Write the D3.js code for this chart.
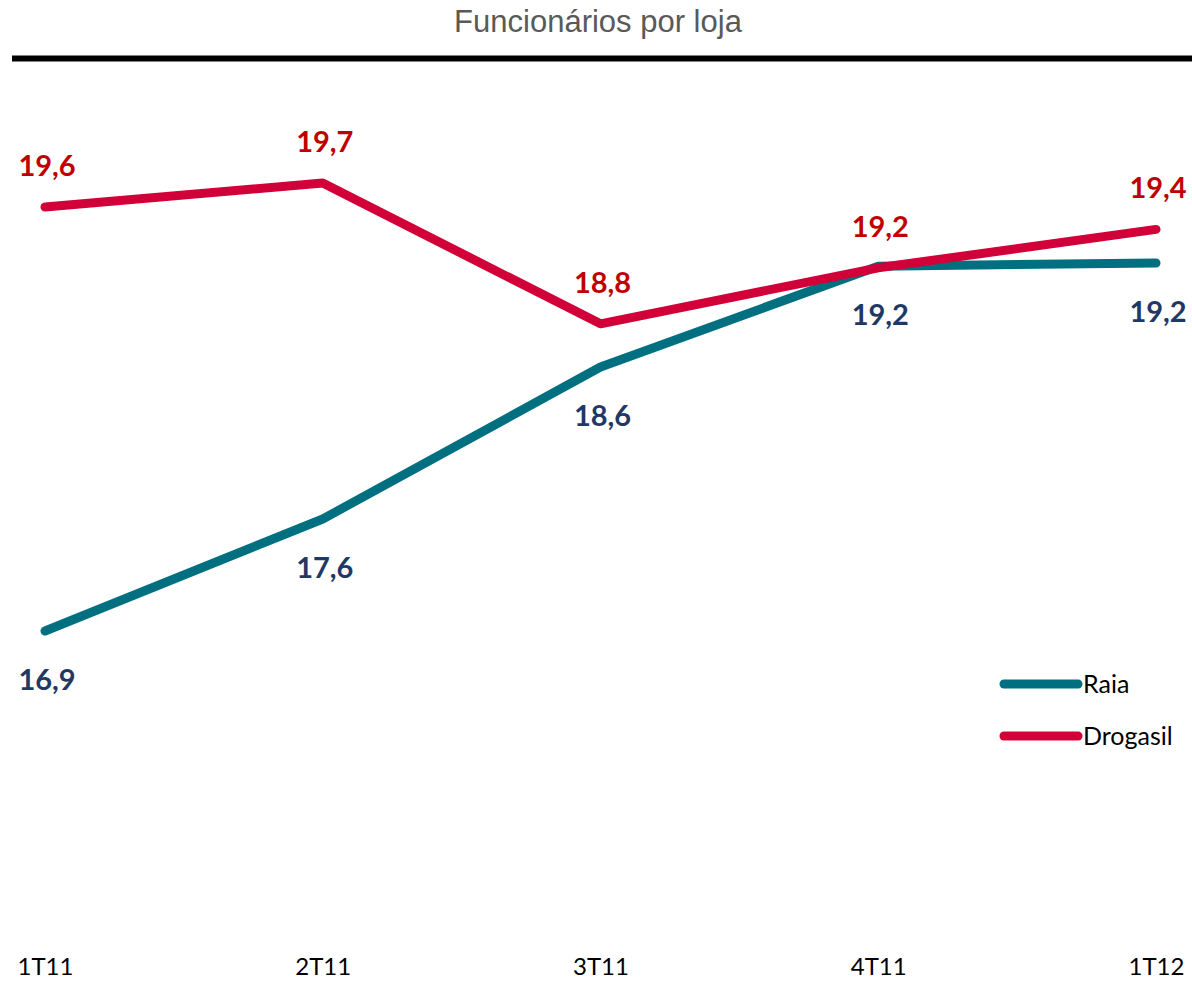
<!DOCTYPE html>
<html lang="pt">
<head>
    <meta charset="UTF-8">
    <title>Funcionários por loja</title>
    <script src="https://d3js.org/d3.v7.min.js"></script>
    <style>
        body { margin: 0; background: #fff; }
        svg { display: block; }
        .title { font-family: "Liberation Sans", Arial, sans-serif; font-size: 31px; fill: #595959; }
        .value { font-family: Lato, "Open Sans", sans-serif; font-weight: bold; font-size: 29px; }
        .tick-label { font-family: Lato, "Open Sans", sans-serif; font-size: 24px; fill: #000; }
        .legend-label { font-family: Lato, "Open Sans", sans-serif; font-size: 25px; fill: #000; }
    </style>
</head>
<body>
<div id="chart"></div>
<script>
    // quarters on the x axis
    const quarters = ["1T11", "2T11", "3T11", "4T11", "1T12"];
    // employees per store
    const raia = [16.9, 17.6, 18.55, 19.18, 19.2];
    const drogasil = [19.55, 19.7, 18.82, 19.17, 19.41];

    const seriesNames = ["Raia", "Drogasil"];
    const lineColors = ["#007080", "#d20038"];
    const labelColors = ["#1f3864", "#c00000"];

    const width = 1192, height = 982;

    const svg = d3.select("#chart")
        .append("svg")
        .attr("width", width)
        .attr("height", height);

    // title + black rule
    svg.append("text")
        .attr("class", "title")
        .attr("x", 598)
        .attr("y", 32)
        .attr("text-anchor", "middle")
        .text("Funcionários por loja");

    svg.append("line")
        .attr("x1", 12).attr("x2", width)
        .attr("y1", 58.5).attr("y2", 58.5)
        .attr("stroke", "#000")
        .attr("stroke-width", 6);

    const x = d3.scalePoint()
        .domain(quarters)
        .range([45, 1156]);

    const y = d3.scaleLinear()
        .domain([16, 20])
        .range([775, 135]);

    // category labels, no axis line
    const xAxis = svg.append("g")
        .attr("transform", "translate(0,975)")
        .call(d3.axisBottom(x).tickSize(0).tickPadding(0));
    xAxis.select(".domain").remove();
    xAxis.selectAll("text")
        .attr("class", "tick-label")
        .attr("dy", 0)
        .attr("y", 0)
        .attr("font-family", null)
        .attr("font-size", null);
    xAxis.attr("font-family", null).attr("font-size", null);

    const line = d3.line()
        .x((d, i) => x(quarters[i]))
        .y(d => y(d));

    const fmt = v => d3.format(".1f")(v).replace(".", ",");

    const series = [raia, drogasil];
    series.forEach((vals, s) => {
        svg.append("path")
            .datum(vals)
            .attr("fill", "none")
            .attr("stroke", lineColors[s])
            .attr("stroke-width", 9)
            .attr("stroke-linecap", "round")
            .attr("stroke-linejoin", "round")
            .attr("d", line);
    });

    // value labels: Raia below the line, Drogasil above
    series.forEach((vals, s) => {
        svg.selectAll(".lbl" + s)
            .data(vals)
            .enter()
            .append("text")
            .attr("class", "value lbl" + s)
            .attr("x", (d, i) => x(quarters[i]) + 2)
            .attr("y", d => s === 0 ? y(d) + 59 : y(d) - 31)
            .attr("text-anchor", "middle")
            .attr("fill", labelColors[s])
            .text(fmt);
    });

    // legend
    const legend = svg.append("g").attr("transform", "translate(1004,684)");
    seriesNames.forEach((name, s) => {
        const g = legend.append("g").attr("transform", `translate(0,${s * 52})`);
        g.append("line")
            .attr("x1", 0).attr("x2", 74)
            .attr("stroke", lineColors[s])
            .attr("stroke-width", 9)
            .attr("stroke-linecap", "round");
        g.append("text")
            .attr("class", "legend-label")
            .attr("x", 79)
            .attr("y", 9)
            .text(name);
    });
</script>
</body>
</html>
